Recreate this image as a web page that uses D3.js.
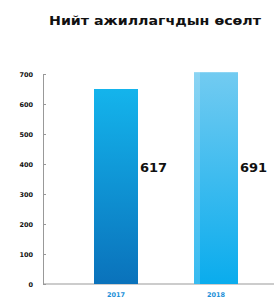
<!DOCTYPE html>
<html><head><meta charset="utf-8">
<script src="https://cdn.jsdelivr.net/npm/d3@7"></script>
<style>body{margin:0;background:#fff}svg{display:block}</style>
</head><body>
<script>
const title = "Нийт ажиллагчдын өсөлт";
const categories = ["2017", "2018"];
const values = [650, 706];
const valueLabels = ["617", "691"];
const yTicks = [0, 100, 200, 300, 400, 500, 600, 700];

const W = 274, H = 298;
const svg = d3.select("body").append("svg").attr("width", W).attr("height", H);

const defs = svg.append("defs");
const g1 = defs.append("linearGradient").attr("id","g0").attr("x1",0).attr("y1",0).attr("x2",0).attr("y2",1);
g1.append("stop").attr("offset","0%").attr("stop-color","#14b4ec");
g1.append("stop").attr("offset","100%").attr("stop-color","#0a72bb");
const g2 = defs.append("linearGradient").attr("id","g1").attr("x1",0).attr("y1",0).attr("x2",0).attr("y2",1);
g2.append("stop").attr("offset","0%").attr("stop-color","#72cbf1");
g2.append("stop").attr("offset","100%").attr("stop-color","#0aaced");

const x = d3.scalePoint().domain(categories).range([116, 216]);
const y = d3.scaleLinear().domain([0, 700]).range([284, 74]);

svg.append("text").attr("x", 155).attr("y", 25).attr("text-anchor","middle")
  .attr("font-family","DejaVu Sans").attr("font-weight","bold").attr("font-size",12)
  .attr("textLength",212).attr("lengthAdjust","spacingAndGlyphs")
  .attr("fill","#111").text(title);

const ax = svg.append("g").attr("transform","translate(43,0)")
  .call(d3.axisLeft(y).tickValues(yTicks).tickSize(3).tickSizeOuter(0).tickFormat(d3.format("d")));
ax.select(".domain").attr("stroke","#999");
ax.selectAll(".tick line").attr("stroke","#999").attr("x2",3);
ax.selectAll(".tick text").attr("x",-10).attr("font-family","DejaVu Sans").attr("font-weight","bold")
  .attr("font-size",6.5).attr("fill","#111");

svg.append("line").attr("x1",43).attr("x2",W).attr("y1",y(0)).attr("y2",y(0)).attr("stroke","#999");

const bw = 44;
svg.selectAll("rect.bar").data(values).join("rect").attr("class","bar")
  .attr("x",(d,i)=>x(categories[i]) - bw/2)
  .attr("width",bw)
  .attr("y",d=>y(d)).attr("height",d=>y(0)-y(d))
  .attr("fill",(d,i)=>`url(#g${i})`);

svg.append("rect").attr("x", x(categories[1]) - bw/2).attr("width",6)
  .attr("y", y(values[1])).attr("height", y(0)-y(values[1])).attr("fill","#fff").attr("opacity",0.18);

svg.selectAll("text.vl").data(valueLabels).join("text").attr("class","vl")
  .attr("x",(d,i)=>x(categories[i]) + bw/2 + 2)
  .attr("y", y(375))
  .attr("font-family","DejaVu Sans").attr("font-weight","bold").attr("font-size",13)
  .attr("fill","#111").text(d=>d);

svg.selectAll("text.xl").data(categories).join("text").attr("class","xl")
  .attr("x",d=>x(d)).attr("y",297).attr("text-anchor","middle")
  .attr("font-family","DejaVu Sans").attr("font-weight","bold").attr("font-size",6.5)
  .attr("fill","#1a8fd8").text(d=>d);
</script>
</body></html>
